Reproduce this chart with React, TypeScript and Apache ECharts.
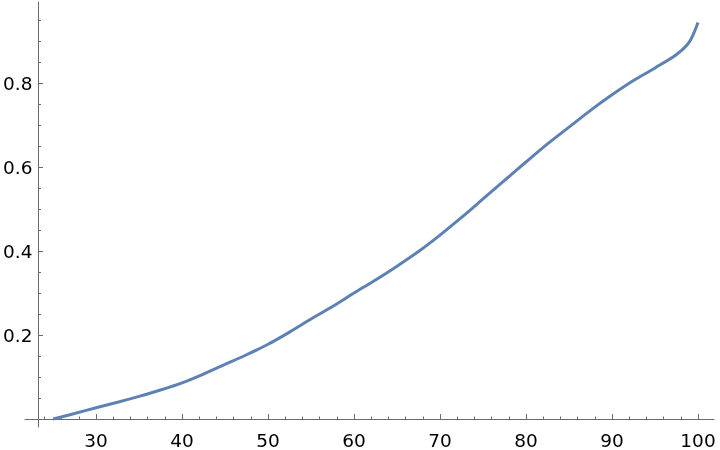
import React, { useEffect, useRef } from "react";
import * as echarts from "echarts";

const xValues = [25, 27.5, 30, 32.5, 35, 37.5, 40, 42.5, 45, 47.5, 50, 52.5, 55, 57.5, 60, 62.5, 65, 67.5, 70, 72.5, 75, 77.5, 80, 82.5, 85, 87.5, 90, 92.5, 95, 97.5, 99, 100];
const yValues = [0, 0.013, 0.027, 0.04, 0.054, 0.069, 0.086, 0.107, 0.13, 0.153, 0.178, 0.207, 0.238, 0.268, 0.3, 0.331, 0.364, 0.399, 0.438, 0.48, 0.524, 0.568, 0.612, 0.655, 0.695, 0.735, 0.772, 0.806, 0.836, 0.868, 0.898, 0.944];

const xMajorTicks = [30, 40, 50, 60, 70, 80, 90, 100];
const xMinorTicks = [24, 26, 28, 32, 34, 36, 38, 42, 44, 46, 48, 52, 54, 56, 58, 62, 64, 66, 68, 72, 74, 76, 78, 82, 84, 86, 88, 92, 94, 96, 98];
const yMajorTicks = [0.2, 0.4, 0.6, 0.8];
const yMinorTicks = [0.05, 0.1, 0.15, 0.25, 0.3, 0.35, 0.45, 0.5, 0.55, 0.65, 0.7, 0.75, 0.85, 0.9, 0.95];

const AXIS_COLOR = "#6b6b6b";
const FONT = "DejaVu Sans";
const FONT_SIZE = 18.5;

export default function App() {
  const ref = useRef<HTMLDivElement>(null);
  useEffect(() => {
    if (!ref.current) return;
    const chart = echarts.init(ref.current, undefined, { renderer: "svg" });
    const data = xValues.map((x, i) => [x, yValues[i]]);
    const xMin = 21.74;
    const xMax = 101.86;
    const yMin = -0.019;
    const yMax = 0.993;
    chart.setOption({
      animation: false,
      grid: { left: 25, right: 6, top: 2, bottom: 23, containLabel: false },
      xAxis: [
        {
          type: "value",
          position: "bottom",
          min: xMin,
          max: xMax,
          axisLine: { show: true, onZero: true, lineStyle: { color: AXIS_COLOR, width: 1 } },
          axisTick: { show: true, inside: true, length: 5, customValues: xMajorTicks, lineStyle: { color: AXIS_COLOR } },
          axisLabel: { show: true, customValues: xMajorTicks, margin: 4, fontSize: FONT_SIZE, fontFamily: FONT, color: "#000" },
          splitLine: { show: false },
        },
        {
          type: "value",
          position: "bottom",
          min: xMin,
          max: xMax,
          axisLine: { show: false, onZero: true },
          axisTick: { show: true, inside: true, length: 2.5, customValues: xMinorTicks, lineStyle: { color: AXIS_COLOR } },
          axisLabel: { show: false },
          splitLine: { show: false },
        },
      ],
      yAxis: [
        {
          type: "value",
          position: "left",
          min: yMin,
          max: yMax,
          offset: -13.5,
          axisLine: { show: true, onZero: false, lineStyle: { color: AXIS_COLOR, width: 1 } },
          axisTick: { show: true, inside: true, length: 4.5, customValues: yMajorTicks, lineStyle: { color: AXIS_COLOR } },
          axisLabel: { show: true, customValues: yMajorTicks, margin: 6, fontSize: FONT_SIZE, fontFamily: FONT, color: "#000" },
          splitLine: { show: false },
        },
        {
          type: "value",
          position: "left",
          min: yMin,
          max: yMax,
          offset: -13.5,
          axisLine: { show: false, onZero: false },
          axisTick: { show: true, inside: true, length: 2.5, customValues: yMinorTicks, lineStyle: { color: AXIS_COLOR } },
          axisLabel: { show: false },
          splitLine: { show: false },
        },
      ],
      series: [
        {
          type: "line",
          data,
          xAxisIndex: 0,
          yAxisIndex: 0,
          smooth: 0.3,
          showSymbol: false,
          symbol: "none",
          lineStyle: { color: "#5e81b5", width: 3 },
        },
      ],
    });
    return () => chart.dispose();
  }, []);
  return <div ref={ref} style={{ position: "fixed", left: 0, top: 0, width: 720, height: 450 }} />;
}
